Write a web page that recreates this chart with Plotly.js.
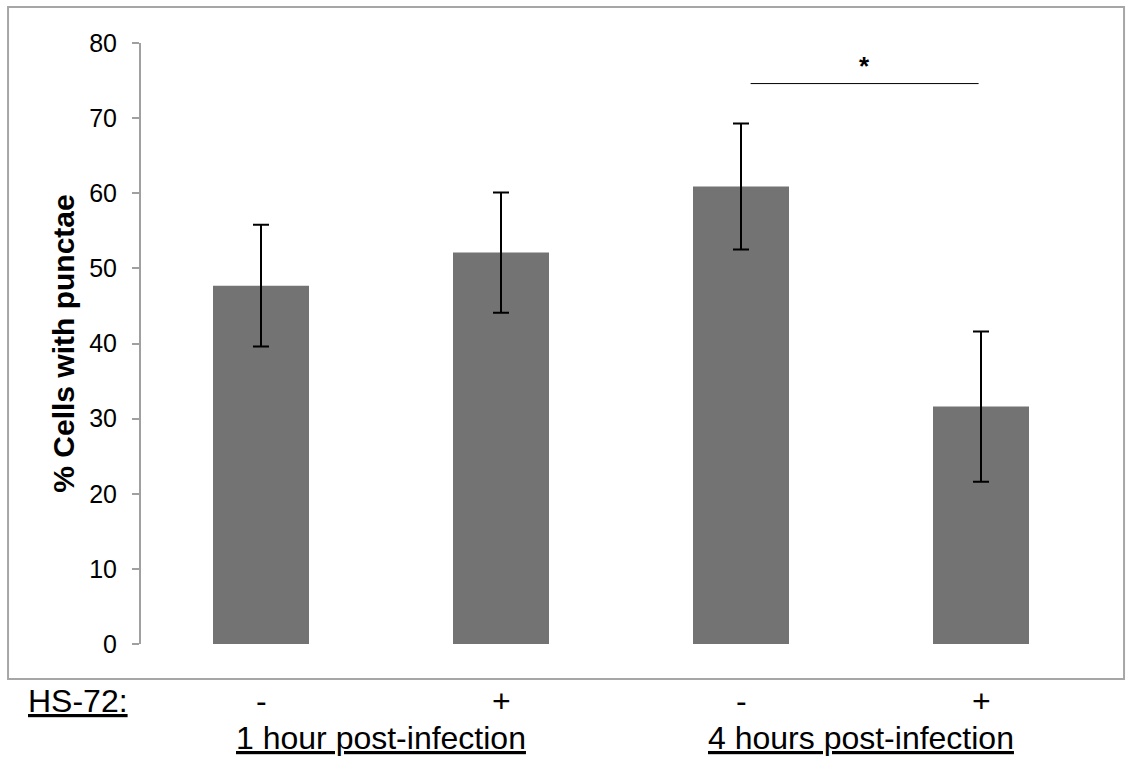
<!DOCTYPE html>
<html>
<head>
<meta charset="utf-8">
<script src="https://cdn.plot.ly/plotly-3.0.1.min.js"></script>
<style>html,body{margin:0;padding:0;background:#fff;}#chart{width:1127px;height:757px;}</style>
</head>
<body>
<div id="chart"></div>
<script>
var categories = ['1h HS-72 -', '1h HS-72 +', '4h HS-72 -', '4h HS-72 +'];
var values = [47.7, 52.1, 60.9, 31.6];
var errors = [8.1, 8.0, 8.4, 10.0];
var treatmentLabels = ['-', '+', '-', '+'];
var groupLabels = ['1 hour post-infection', '4 hours post-infection'];
var groupCenters = [0.5, 2.5];
var yTicks = [0, 10, 20, 30, 40, 50, 60, 70, 80];
var sigLevel = 74.6;
var sigFrom = 2.04, sigTo = 2.99;

var FONT = 'Liberation Sans, Arial, sans-serif';

var trace = {
  type: 'bar',
  x: [0, 1, 2, 3],
  y: values,
  width: 0.4,
  marker: {color: '#737373', line: {width: 0}},
  error_y: {type: 'data', array: errors, visible: true, color: '#000', thickness: 2, width: 8},
  hoverinfo: 'none'
};

var annotations = [];
treatmentLabels.forEach(function (t, i) {
  annotations.push({xref: 'x', yref: 'paper', x: i, y: -0.095, text: t, showarrow: false,
    xanchor: 'center', yanchor: 'middle', font: {family: FONT, size: 32, color: '#000'}});
});
groupLabels.forEach(function (g, i) {
  annotations.push({xref: 'x', yref: 'paper', x: groupCenters[i], y: -0.157,
    text: '<span style="text-decoration:underline">' + g + '</span>', showarrow: false,
    xanchor: 'center', yanchor: 'middle', font: {family: FONT, size: 32, color: '#000'}});
});
annotations.push({xref: 'paper', yref: 'paper', x: -0.1195, y: -0.095,
  text: '<span style="text-decoration:underline">HS-72:</span>', showarrow: false,
  xanchor: 'left', yanchor: 'middle', font: {family: FONT, size: 32, color: '#000'}});
annotations.push({xref: 'x', yref: 'y', x: (sigFrom + sigTo) / 2, y: sigLevel + 2.4, text: '<b>*</b>',
  showarrow: false, xanchor: 'center', yanchor: 'middle', font: {family: FONT, size: 26, color: '#000'}});

var layout = {
  width: 1127, height: 757,
  margin: {l: 141, r: 26, t: 43, b: 113},
  paper_bgcolor: '#fff', plot_bgcolor: '#fff',
  showlegend: false,
  xaxis: {range: [-0.5, 3.5], showticklabels: false, ticks: '', showgrid: false, zeroline: false, showline: false, fixedrange: true},
  yaxis: {range: [0, 80], tickvals: yTicks, ticktext: yTicks.map(String), ticks: 'outside', ticklen: 7, tickwidth: 2, tickcolor: '#a0a0a0',
    showline: true, linecolor: '#a0a0a0', linewidth: 2, showgrid: false, zeroline: false,
    tickfont: {family: FONT, size: 25, color: '#000'}, ticklabelstandoff: 10,
    title: {text: '<b>% Cells with punctae</b>', font: {family: FONT, size: 30, color: '#000'}, standoff: 6}},
  shapes: [
    {type: 'rect', xref: 'paper', yref: 'paper', x0: -0.1385, x1: 1.024, y0: -0.0582, y1: 1.0599,
      line: {color: '#a6a6a6', width: 2}, fillcolor: 'rgba(0,0,0,0)'},
    {type: 'line', xref: 'x', yref: 'y', x0: sigFrom, x1: sigTo, y0: sigLevel, y1: sigLevel,
      line: {color: '#000', width: 1}}
  ],
  annotations: annotations
};

Plotly.newPlot('chart', [trace], layout, {displayModeBar: false, staticPlot: true});
</script>
</body>
</html>
